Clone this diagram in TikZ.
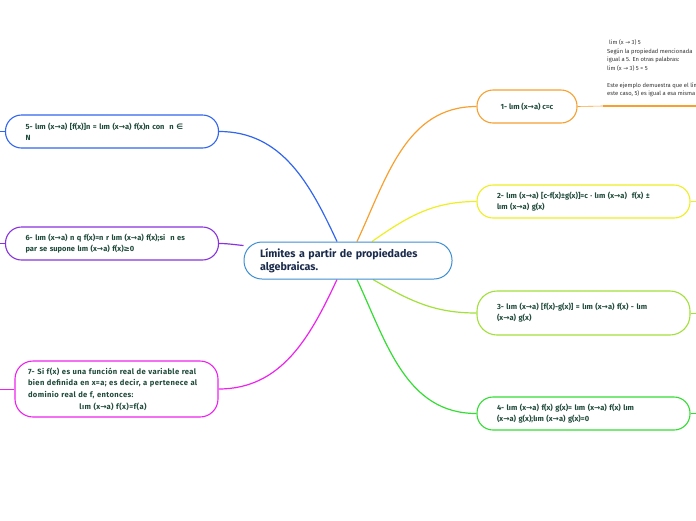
\documentclass[tikz,border=0pt]{standalone}
\usepackage{fontspec}
\setmainfont{Fira Sans}
\newfontfamily\symfont{DejaVu Sans}
\newcommand\lto{{\symfont →}}
\newcommand\elem{{\symfont ∈}}
\newcommand\geqs{{\symfont ≥}}
\usetikzlibrary{backgrounds}
\definecolor{ctrblue}{HTML}{3D8FD1}
\definecolor{ctrtext}{HTML}{1B2B4B}
\definecolor{txtgreen}{HTML}{1F4A3A}
\definecolor{notegray}{HTML}{333333}
\definecolor{cOrange}{HTML}{F7A030}
\definecolor{cYellow}{HTML}{EEEE22}
\definecolor{cLime}{HTML}{A2E03A}
\definecolor{cGreen}{HTML}{33DD33}
\definecolor{cBlue}{HTML}{3366EE}
\definecolor{cPurple}{HTML}{8833DD}
\definecolor{cMagenta}{HTML}{EE22EE}
\tikzset{
  topic/.style={draw=#1, line width=1.1pt, fill=white, rounded corners=16pt,
    text=txtgreen, font=\bfseries\fontsize{7.5}{11.2}\selectfont, align=left,
    text width=173pt, inner xsep=20pt, minimum height=33pt},
  link/.style={draw=#1, line width=1.2pt},
}
\begin{document}
\begin{tikzpicture}[x=1pt,y=1pt]
  \useasboundingbox (0,0) rectangle (696,-520);
  \clip (0,0) rectangle (696,-520);
  % central topic
  \node (ctr) at (348,-260.5) [draw=ctrblue, line width=1pt, fill=white,
    rounded corners=18pt, minimum width=208pt, minimum height=37pt,
    text width=176pt, inner xsep=16pt, align=left, text=ctrtext,
    font=\bfseries\fontsize{10.7}{13}\selectfont]
    {Límites a partir de propiedades\\algebraicas.};
  % right branches
  \node (n1) at (527,-106.5) [topic=cOrange, text width=, minimum width=100pt,
    align=center] {1- lım (x\lto a) c=c};
  \node (n2) at (583.5,-201.5) [topic=cYellow]
    {2- lım (x\lto a) [c-f(x)±g(x)]=c · lım (x\lto a)\ \ f(x) ±\\lım (x\lto a) g(x)};
  \node (n3) at (583.5,-313) [topic=cLime, minimum height=44pt, rounded corners=20pt]
    {3- lım (x\lto a) [f(x)-g(x)] = lım (x\lto a) f(x) - lım\\(x\lto a) g(x)};
  \node (n4) at (583.5,-413.5) [topic=cGreen]
    {4- lım (x\lto a) f(x) g(x)= lım (x\lto a) f(x) lım\\(x\lto a) g(x);lım (x\lto a) g(x)=0};
  % left branches
  \node (n5) at (112,-131.5) [topic=cBlue]
    {5- lım (x\lto a) [f(x)]n = lım (x\lto a) f(x)n con\ \ n \elem\\N};
  \node (n6) at (112,-243.5) [topic=cPurple]
    {6- lım (x\lto a) n q f(x)=n r lım (x\lto a) f(x);si\ \ n es\\par se supone lım (x\lto a) f(x)\geqs0};
  \node (n7) at (116.5,-389) [topic=cMagenta, text width=177pt, inner xsep=13pt,
    minimum height=56pt, rounded corners=18pt,
    font=\bfseries\fontsize{7.6}{11.7}\selectfont\addfontfeature{LetterSpace=5}]
    {7- Si f(x) es una función real de variable real\\bien definida en x=a; es decir, a pertenece al\\dominio real de f, entonces:\\\makebox[170pt]{lım (x\lto a) f(x)=f(a)}};
  % note under topic 1
  \node (note) at (603,-106) [anchor=south west, align=left, inner xsep=4pt,
    inner ysep=9pt, text=notegray, font=\fontsize{5.8}{8.5}\selectfont]
    {\hspace{2pt}lim (x \lto{} 3) 5\\Según la propiedad mencionada\\igual a 5. En otras palabras:\\lim (x \lto{} 3) 5 = 5\\[8.5pt]Este ejemplo demuestra que el límite\\este caso, 5) es igual a esa misma};
  \draw[cOrange, line width=1.6pt] (note.south west) -- (note.south east);
  % loose ends
  \coordinate (t2) at (700,-201.5);
  \coordinate (t3) at (700,-313);
  \coordinate (t4) at (700,-413.5);
  \coordinate (t5) at (-4,-131.5);
  \coordinate (t6) at (-4,-243.5);
  \coordinate (t7) at (-4,-389);
  \begin{scope}[on background layer]
    \draw[link=cOrange] ([xshift=9pt]ctr.north) to[out=65,in=180] (n1.west);
    \draw[link=cYellow] ([xshift=24pt]ctr.north) to[out=35,in=180] (n2.west);
    \draw[link=cLime] ([xshift=25pt]ctr.south) to[out=-30,in=180] (n3.west);
    \draw[link=cGreen] ([xshift=9pt]ctr.south) to[out=-65,in=180] (n4.west);
    \draw[link=cBlue] ([xshift=-11pt]ctr.north) to[out=115,in=0] (n5.east);
    \draw[link=cPurple] (n6.east) to[out=0,in=175] ([yshift=15pt]ctr.west);
    \draw[link=cMagenta] ([xshift=-11pt]ctr.south) to[out=-115,in=0] (n7.east);
    \draw[cOrange, line width=0.6pt] (n1.east) -- (note.south west);
    \draw[cYellow, line width=0.6pt] (n2.east) -- (t2);
    \draw[cLime, line width=0.6pt] (n3.east) -- (t3);
    \draw[cGreen, line width=0.6pt] (n4.east) -- (t4);
    \draw[cBlue, line width=0.6pt] (n5.west) -- (t5);
    \draw[cPurple, line width=0.6pt] (n6.west) -- (t6);
    \draw[cMagenta, line width=0.6pt] (n7.west) -- (t7);
  \end{scope}
\end{tikzpicture}
\end{document}
